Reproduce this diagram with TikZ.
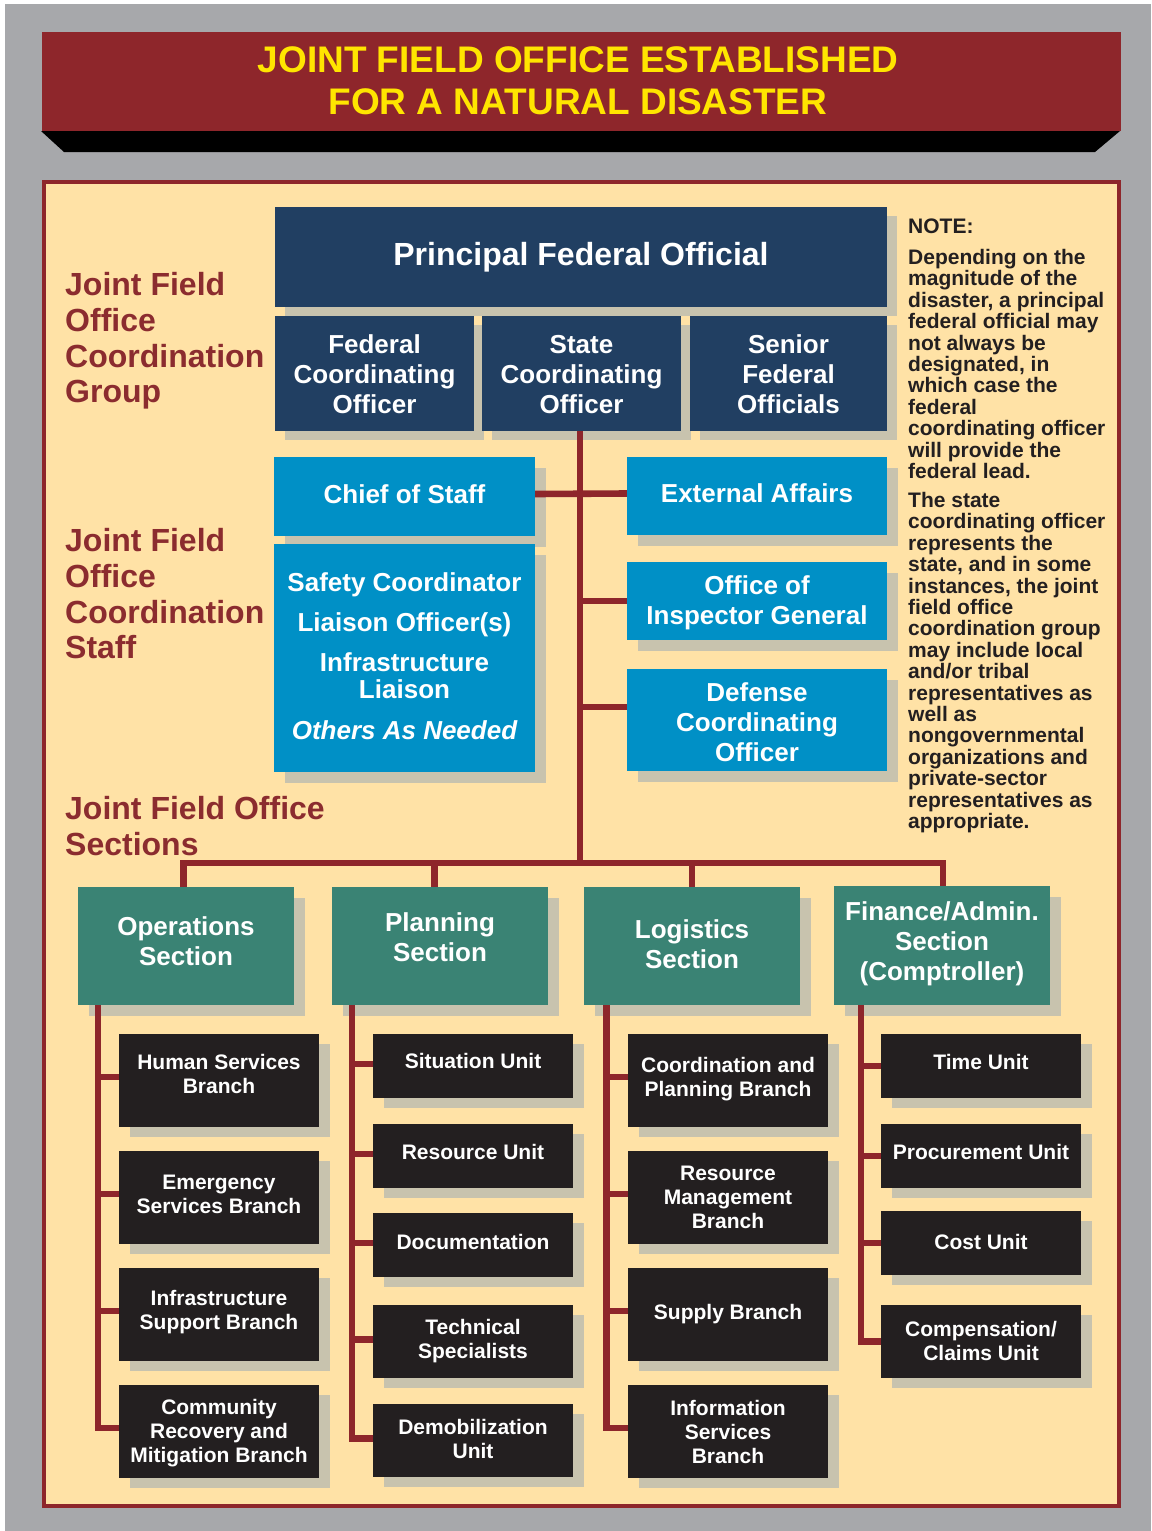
\documentclass[tikz,border=0pt]{standalone}
\usepackage{fontspec}
\setmainfont{Liberation Sans}
\usetikzlibrary{calc}
\definecolor{bggray}{HTML}{A7A8AB}
\definecolor{maroon}{HTML}{8E262B}
\definecolor{cream}{HTML}{FFE2A6}
\definecolor{navy}{HTML}{213F62}
\definecolor{sky}{HTML}{0090C6}
\definecolor{tealbox}{HTML}{3A8374}
\definecolor{blk}{HTML}{231F20}
\definecolor{shd}{HTML}{C8C3AE}
\definecolor{ylw}{HTML}{FFE500}
\definecolor{lblc}{HTML}{8B2C2F}
\pgfdeclarelayer{bg}\pgfdeclarelayer{shadow}\pgfdeclarelayer{lines}
\pgfsetlayers{bg,shadow,lines,main}
\def\myshx{11}\def\myshy{10}
% #1 name, #2 style, #3 x1, #4 y1, #5 x2, #6 y2, #7 text raise (pt), #8 text
\newcommand\ubox[8]{%
  \pgfmathsetmacro\ubw{#5-#3}%
  \pgfmathsetmacro\ubh{#6-#4}%
  \node[#2, minimum width=\ubw pt, minimum height=\ubh pt] (#1) at ({(#3+#5)/2},{(#4+#6)/2}) {};%
  \node[#2, fill=none] (#1t) at ([yshift=#7pt]#1.center) {#8};%
  \begin{pgfonlayer}{shadow}%
  \fill[shd] ([shift={(\myshx,\myshy)}]#1.north west) rectangle ([shift={(\myshx,\myshy)}]#1.south east);%
  \end{pgfonlayer}}
\tikzset{
  box/.style={inner sep=0pt, text=white, align=center},
  navybox/.style={box, fill=navy, font=\fontsize{26}{30}\selectfont\bfseries},
  skybox/.style={box, fill=sky, font=\fontsize{26}{30}\selectfont\bfseries},
  secbox/.style={box, fill=tealbox, font=\fontsize{26}{30}\selectfont\bfseries},
  unitbox/.style={box, fill=blk, font=\fontsize{21}{24}\selectfont\bfseries},
  grouplabel/.style={inner sep=0pt, anchor=north west, align=left, text=lblc, font=\fontsize{32}{35.7}\selectfont\bfseries},
  notetext/.style={inner sep=0pt, anchor=north west, align=left, text=blk, font=\fontsize{21}{21.4}\selectfont\bfseries},
  conn/.style={draw=maroon, line width=6.6pt, line join=miter}
}
\begin{document}
\begin{tikzpicture}[x=1pt,y=-1pt]
\useasboundingbox (0,0) rectangle (1151,1531);
\begin{pgfonlayer}{bg}
\fill[white] (0,0) rectangle (1151,1531);
\fill[bggray] (5,4) rectangle (1151,1531);
\fill[maroon] (42,32) rectangle (1121,131);
\fill[black] (41,131) -- (1120,131) -- (1095,152) -- (64,152) -- cycle;
\fill[maroon] (42,180) rectangle (1121,1508);
\fill[cream] (46,184) rectangle (1117,1504);
\end{pgfonlayer}

% title
\node[inner sep=0pt, anchor=north, align=center, text=ylw, font=\fontsize{37}{42}\selectfont\bfseries] (title) at (578,46.5) {JOINT FIELD OFFICE ESTABLISHED\\FOR A NATURAL DISASTER};

% left labels
\node[grouplabel] (lblgroup) at (65,272.5) {Joint Field\\Office\\Coordination\\Group};
\node[grouplabel] (lblstaff) at (65,528.5) {Joint Field\\Office\\Coordination\\Staff};
\node[grouplabel] (lblsect) at (65,796.5) {Joint Field Office\\Sections};

% note
\node[notetext] (note1) at (908,218.5) {NOTE:};
\node[notetext] (note2) at (908,249) {Depending on the\\magnitude of the\\disaster, a principal\\federal official may\\not always be\\designated, in\\which case the\\federal\\coordinating officer\\will provide the\\federal lead.};
\node[notetext] (note3) at (908,492) {The state\\coordinating officer\\represents the\\state, and in some\\instances, the joint\\field office\\coordination group\\may include local\\and/or tribal\\representatives as\\well as\\nongovernmental\\organizations and\\private-sector\\representatives as\\appropriate.};

% coordination group
\def\myshx{10}\def\myshy{9}
\ubox{pfo}{navybox, font=\fontsize{32}{36}\selectfont\bfseries}{275}{207}{887}{307}{0}{Principal Federal Official}
\ubox{fco}{navybox}{275}{316}{474}{431}{-1}{Federal\\Coordinating\\Officer}
\ubox{sco}{navybox}{482}{316}{681}{431}{-1}{State\\Coordinating\\Officer}
\ubox{sfo}{navybox}{690}{316}{887}{431}{-1}{Senior\\Federal\\Officials}

% staff
\def\myshx{11}\def\myshy{11}
\ubox{cos}{skybox}{274}{457}{535}{536}{2}{Chief of Staff}
\ubox{stf}{skybox, font=\fontsize{26}{27}\selectfont\bfseries}{274}{544}{535}{772}{2}{Safety Coordinator\\[13pt]Liaison Officer(s)\\[13pt]Infrastructure\\Liaison\\[14pt]\itshape Others As Needed}
\ubox{ext}{skybox}{627}{457}{887}{535}{3}{External Affairs}
\ubox{oig}{skybox}{627}{562}{887}{640}{-2}{Office of\\Inspector General}
\ubox{dco}{skybox}{627}{669}{887}{771}{-2}{Defense\\Coordinating\\Officer}

% sections
\ubox{ops}{secbox}{78}{887}{294}{1005}{5}{Operations\\Section}
\ubox{pln}{secbox}{332}{887}{548}{1005}{9}{Planning\\Section}
\ubox{lgs}{secbox}{584}{887}{800}{1005}{2}{Logistics\\Section}
\ubox{fin}{secbox}{834}{886}{1050}{1005}{2}{Finance/Admin.\\Section\\(Comptroller)}

% operations branches
\def\myshx{11}\def\myshy{10}
\ubox{hsb}{unitbox}{119}{1034}{319}{1127}{7}{Human Services\\Branch}
\ubox{esb}{unitbox}{119}{1151}{319}{1244}{3}{Emergency\\Services Branch}
\ubox{isb}{unitbox}{119}{1268}{319}{1361}{2}{Infrastructure\\Support Branch}
\ubox{crm}{unitbox}{119}{1385}{319}{1478}{-2}{Community\\Recovery and\\Mitigation Branch}

% planning units
\ubox{sit}{unitbox}{373}{1034}{573}{1098}{5}{Situation Unit}
\ubox{res}{unitbox}{373}{1124}{573}{1188}{4}{Resource Unit}
\ubox{doc}{unitbox}{373}{1213}{573}{1277}{3}{Documentation}
\ubox{tec}{unitbox}{373}{1305}{573}{1378}{0}{Technical\\Specialists}
\ubox{dem}{unitbox}{373}{1404}{573}{1477}{2}{Demobilization\\Unit}

% logistics branches
\ubox{cpb}{unitbox}{628}{1034}{828}{1127}{1}{Coordination and\\Planning Branch}
\ubox{rmb}{unitbox}{628}{1151}{828}{1244}{0}{Resource\\Management\\Branch}
\ubox{spb}{unitbox}{628}{1268}{828}{1361}{0}{Supply Branch}
\ubox{isv}{unitbox}{628}{1385}{828}{1478}{0}{Information\\Services\\Branch}

% finance units
\ubox{tim}{unitbox}{881}{1034}{1081}{1098}{4}{Time Unit}
\ubox{pro}{unitbox}{881}{1124}{1081}{1188}{4}{Procurement Unit}
\ubox{cst}{unitbox}{881}{1211}{1081}{1275}{1}{Cost Unit}
\ubox{cmp}{unitbox}{881}{1305}{1081}{1378}{1}{Compensation/\\Claims Unit}

% connector anchors
\coordinate (trunk) at (580,863);
\coordinate (barL) at (183.5,863);
\coordinate (barP) at (434.5,863);
\coordinate (barG) at (692,863);
\coordinate (barR) at (943,863);
\coordinate (opsx) at (98,1005);
\coordinate (plnx) at (352,1005);
\coordinate (lgsx) at (606.5,1005);
\coordinate (finx) at (861,1005);

\begin{pgfonlayer}{lines}
\draw[conn] (sco.south -| trunk) -- (trunk);
\draw[conn] ([yshift=2.5pt]cos.east) -- ([yshift=2.5pt]ext.west);
\draw[conn] (oig.west) -- (oig.west -| trunk);
\draw[conn] ([yshift=13pt]dco.west) -- ([yshift=13pt]dco.west -| trunk);
\draw[conn] (ops.north -| barL) |- (barR) -- (fin.north -| barR);
\draw[conn] (barP) -- (pln.north -| barP);
\draw[conn] (barG) -- (lgs.north -| barG);
% operations
\draw[conn] (ops.south -| opsx) |- ([yshift=3.5pt]crm.west);
\foreach \n in {hsb,esb,isb}{\draw[conn] ([yshift=3.5pt]\n.west) -- ([yshift=3.5pt]\n.west -| opsx);}
% planning
\draw[conn] (pln.south -| plnx) |- ([yshift=2pt]dem.west);
\foreach \n in {sit,res,doc,tec}{\draw[conn] ([yshift=2pt]\n.west) -- ([yshift=2pt]\n.west -| plnx);}
% logistics
\draw[conn] (lgs.south -| lgsx) |- ([yshift=3.5pt]isv.west);
\foreach \n in {cpb,rmb,spb}{\draw[conn] ([yshift=3.5pt]\n.west) -- ([yshift=3.5pt]\n.west -| lgsx);}
% finance
\draw[conn] (fin.south -| finx) |- (cmp.west);
\foreach \n in {tim,pro,cst}{\draw[conn] (\n.west) -- (\n.west -| finx);}
\end{pgfonlayer}
\end{tikzpicture}
\end{document}
